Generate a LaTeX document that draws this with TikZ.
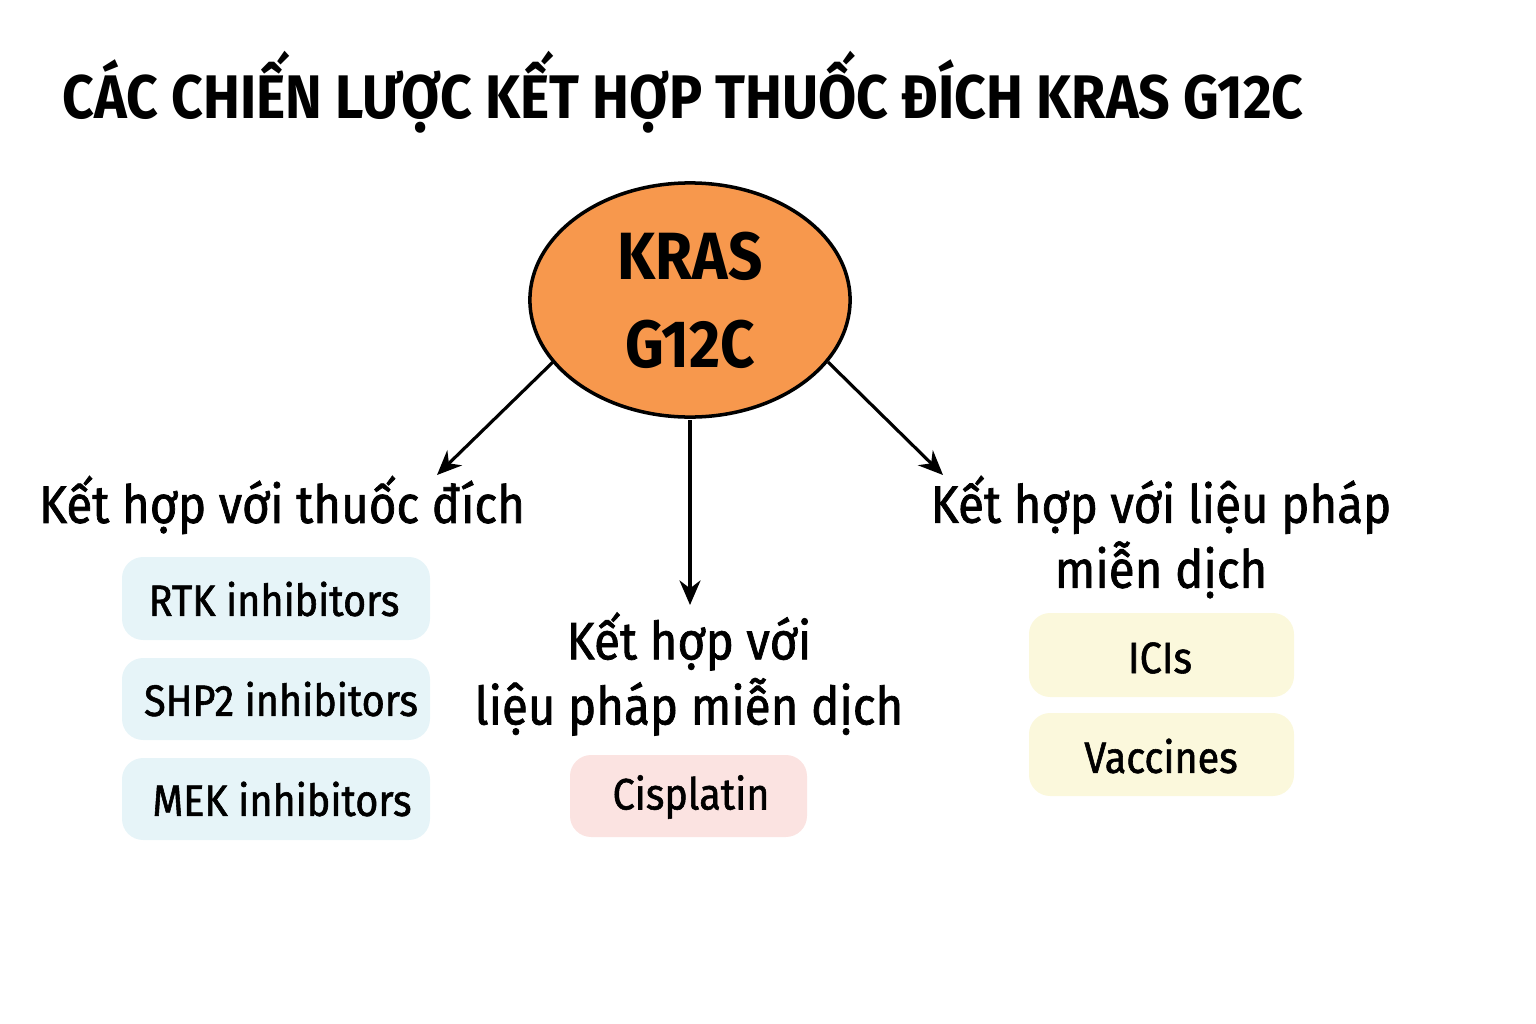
\documentclass[tikz,border=0pt]{standalone}
\usepackage{fontspec}
\setmainfont{Fira Sans}[FakeStretch=0.9]
\newfontfamily\medf{Fira Sans}[FakeStretch=0.9,FakeBold=1.3]
\usetikzlibrary{shapes.geometric,arrows.meta}
\begin{document}
\begin{tikzpicture}[x=0.01cm,y=-0.01cm,
  box/.style={rounded corners=6pt,inner sep=0pt},
  lbl/.style={font=\fontsize{15}{18.5}\selectfont\medf,align=center},
  btxt/.style={font=\fontsize{12.5}{15}\selectfont\medf},
  arr/.style={-{Stealth[length=7pt,width=6pt]},line width=0.9pt}]
\useasboundingbox (0,0) rectangle (1536,1024);
\node[anchor=west,font=\fontsize{17.5}{21}\selectfont\fontseries{sb}\selectfont] (title) at (50,92) {CÁC CHIẾN LƯỢC KẾT HỢP THUỐC ĐÍCH KRAS G12C};
\node[ellipse,draw,line width=1pt,fill={rgb,255:red,247;green,152;blue,77},minimum width=3.2cm,minimum height=2.34cm,inner sep=0pt,align=center,font=\fontsize{19}{22}\selectfont\bfseries] (k) at (690,300) {KRAS\\[3pt]G12C};
\coordinate (a1) at (553,362); \coordinate (a1e) at (437,475);
\coordinate (a2) at (690,420); \coordinate (a2e) at (690,605);
\coordinate (a3) at (828,362); \coordinate (a3e) at (943,475);
\draw[arr] (a1) -- (a1e);
\draw[arr] (a2) -- (a2e);
\draw[arr] (a3) -- (a3e);
\node[lbl] (l1) at (282,505) {Kết hợp với thuốc đích};
\node[lbl] (l2) at (689,674) {Kết hợp với\\liệu pháp miễn dịch};
\node[lbl] (l3) at (1161,537) {Kết hợp với liệu pháp\\miễn dịch};
\fill[box,fill={rgb,255:red,230;green,244;blue,248}] (122,557) rectangle (430,640);
\fill[box,fill={rgb,255:red,230;green,244;blue,248}] (122,658) rectangle (430,740);
\fill[box,fill={rgb,255:red,230;green,244;blue,248}] (122,758) rectangle (430,840);
\fill[box,fill={rgb,255:red,251;green,227;blue,225}] (570,755) rectangle (807,837);
\fill[box,fill={rgb,255:red,251;green,248;blue,220}] (1029,613) rectangle (1294,697);
\fill[box,fill={rgb,255:red,251;green,248;blue,220}] (1029,713) rectangle (1294,796);
\node[btxt] (b1) at (274,599) {RTK inhibitors};
\node[btxt] (b2) at (281,699) {SHP2 inhibitors};
\node[btxt] (b3) at (282,799) {MEK inhibitors};
\node[btxt] (b4) at (691,797) {Cisplatin};
\node[btxt] (b5) at (1160,658) {ICIs};
\node[btxt] (b6) at (1161,756) {Vaccines};
\end{tikzpicture}
\end{document}
